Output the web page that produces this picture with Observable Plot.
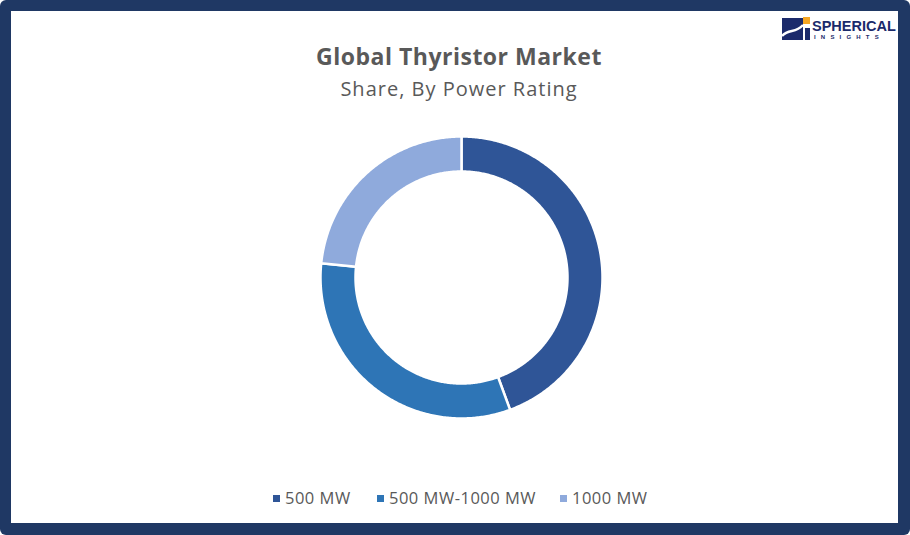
<!DOCTYPE html>
<html>
<head>
<meta charset="utf-8">
<script src="https://cdn.jsdelivr.net/npm/d3@7"></script>
<script src="https://cdn.jsdelivr.net/npm/@observablehq/plot@0.6"></script>
<style>
  html, body { margin: 0; padding: 0; width: 910px; height: 535px; overflow: hidden; background: #ffffff; }
  #frame { position: absolute; left: 0; top: 0; width: 910px; height: 535px; background: #1f3864; border-radius: 6px; }
  #panel { position: absolute; left: 11px; top: 11px; width: 887px; height: 512px; background: #ffffff; }
  .title { position: absolute; left: 0; width: 918px; text-align: center; font-family: "Open Sans", Lato, sans-serif; color: #595959; white-space: nowrap; }
  #t1 { top: 40px; font-size: 23px; font-weight: bold; letter-spacing: 0.5px; }
  #t2 { top: 75px; font-size: 20px; letter-spacing: 1px; }
  #chart { position: absolute; left: 311px; top: 127px; }
  #legend { position: absolute; top: 486px; left: 0; width: 910px; font-family: "Open Sans", Lato, sans-serif; font-size: 16.5px; letter-spacing: 0.5px; color: #595959; }
  .item { position: absolute; white-space: nowrap; }
  .sw { position: absolute; width: 7px; height: 7px; top: 9px; }
  #logo { position: absolute; left: 778px; top: 14px; }
</style>
</head>
<body>
<div id="frame"></div>
<div id="panel"></div>
<div class="title" id="t1">Global Thyristor Market</div>
<div class="title" id="t2">Share, By Power Rating</div>
<div id="chart"></div>
<div id="legend"></div>
<svg id="logo" width="119" height="32" viewBox="0 0 119 32">
  <rect x="4" y="4" width="21" height="22" fill="#1b2a6b"/>
  <path d="M4 22 C 11 14, 17 20, 25 11" stroke="#ffffff" stroke-width="2.5" fill="none"/>
  <rect x="25" y="3" width="7" height="7" fill="#f5a623"/>
  <rect x="27" y="14" width="5" height="12" fill="#1b2a6b"/>
  <text x="34" y="16.5" font-family="'Liberation Sans', Arial, sans-serif" font-weight="bold" font-size="14.5" fill="#1b2a6b">SPHERICAL</text>
  <text x="36" y="25" font-family="'Liberation Sans', Arial, sans-serif" font-weight="bold" font-size="6" fill="#1b2a6b" letter-spacing="5.2">INSIGHTS</text>
</svg>
<script>
const categories = ["500 MW", "500 MW-1000 MW", "1000 MW"];
const shares = [44.4, 32.2, 23.4];
const colors = ["#2f5597", "#2e75b6", "#8faadc"];

const outerR = 141, innerR = 106;
const arcs = d3.pie().sort(null).value(d => d.value)(categories.map((c, i) => ({cat: c, value: shares[i]})));
const pts = [];
for (const a of arcs) {
  const n = Math.max(8, Math.ceil((a.endAngle - a.startAngle) / 0.01));
  for (let k = 0; k <= n; k++) {
    const t = a.startAngle + (a.endAngle - a.startAngle) * k / n;
    pts.push({cat: a.data.cat, x: outerR * Math.sin(t), y: outerR * Math.cos(t)});
  }
  for (let k = n; k >= 0; k--) {
    const t = a.startAngle + (a.endAngle - a.startAngle) * k / n;
    pts.push({cat: a.data.cat, x: innerR * Math.sin(t), y: innerR * Math.cos(t)});
  }
}

const plot = Plot.plot({
  width: 300, height: 300, margin: 0,
  x: {domain: [-150, 150], axis: null},
  y: {domain: [-150, 150], axis: null},
  color: {domain: categories, range: colors},
  marks: [
    Plot.line(pts, {x: "x", y: "y", z: "cat", fill: "cat", stroke: "#ffffff", strokeWidth: 2.5, curve: "linear-closed"})
  ]
});
document.getElementById("chart").appendChild(plot);

const swatchX = [273, 377, 560];
const legend = document.getElementById("legend");
categories.forEach((c, i) => {
  const s = document.createElement("div");
  s.className = "sw";
  s.style.left = swatchX[i] + "px";
  s.style.background = colors[i];
  legend.appendChild(s);
  const d = document.createElement("div");
  d.className = "item";
  d.style.left = (swatchX[i] + 12) + "px";
  d.textContent = c;
  legend.appendChild(d);
});
</script>
</body>
</html>
